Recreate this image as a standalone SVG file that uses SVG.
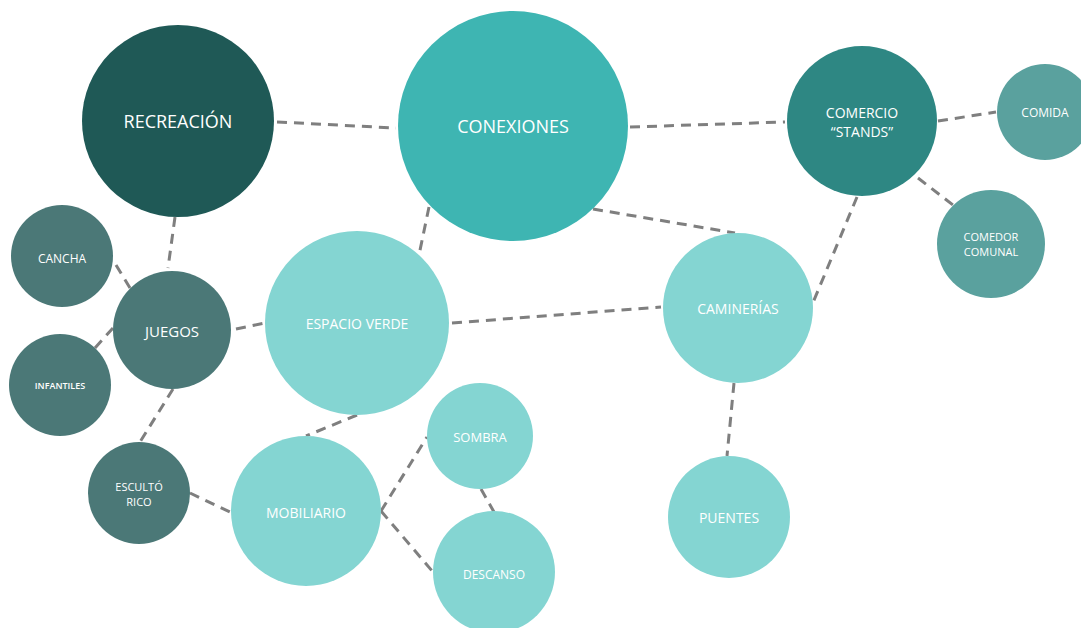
<svg xmlns="http://www.w3.org/2000/svg" width="1081" height="628" viewBox="0 0 1081 628">
<style>
.edge{stroke:#7f7f7f;stroke-width:3;stroke-dasharray:10 7;fill:none}
.t{font-family:"Open Sans","Noto Sans","Liberation Sans",sans-serif;fill:#ffffff;text-anchor:middle}
.c1{fill:#1f5956}.c2{fill:#3eb5b2}.c3{fill:#2e8783}.c4{fill:#5aa19e}.c5{fill:#4b7877}.c6{fill:#84d5d2}
</style>
<rect width="1081" height="628" fill="#ffffff"/>
<g id="connectors">
<line class="edge" x1="277" y1="122" x2="396" y2="128"/>
<line class="edge" x1="630" y1="127" x2="785" y2="122"/>
<line class="edge" x1="938" y1="121" x2="996" y2="112"/>
<line class="edge" x1="918" y1="178" x2="953" y2="205"/>
<line class="edge" x1="857" y1="197" x2="812" y2="305"/>
<line class="edge" x1="593" y1="209" x2="735" y2="233"/>
<line class="edge" x1="429" y1="207" x2="419" y2="255"/>
<line class="edge" x1="175" y1="217" x2="168" y2="268"/>
<line class="edge" x1="116" y1="265" x2="130" y2="288"/>
<line class="edge" x1="95" y1="348" x2="113" y2="328"/>
<line class="edge" x1="173" y1="389" x2="140" y2="442"/>
<line class="edge" x1="236" y1="329" x2="265" y2="323"/>
<line class="edge" x1="452" y1="323" x2="661" y2="307"/>
<line class="edge" x1="357" y1="415" x2="306" y2="436"/>
<line class="edge" x1="190" y1="493" x2="230" y2="512"/>
<line class="edge" x1="381" y1="511" x2="427" y2="437"/>
<line class="edge" x1="381" y1="511" x2="433" y2="572"/>
<line class="edge" x1="481" y1="489" x2="494" y2="512"/>
<line class="edge" x1="734" y1="383" x2="727" y2="456"/>
</g>
<g id="recreacion"><circle class="c1" cx="178" cy="121" r="96"/><text class="t" x="178" y="128" font-size="18">RECREACIÓN</text></g>
<g id="conexiones"><circle class="c2" cx="513" cy="126" r="115"/><text class="t" x="513" y="133" font-size="18">CONEXIONES</text></g>
<g id="comercio"><circle class="c3" cx="862" cy="121" r="75"/><text class="t" x="862" y="118" font-size="14">COMERCIO</text><text class="t" x="862" y="137" font-size="14">“STANDS”</text></g>
<g id="comida"><circle class="c4" cx="1045" cy="112" r="48"/><text class="t" x="1045" y="117" font-size="12">COMIDA</text></g>
<g id="comedor"><circle class="c4" cx="991" cy="244" r="54"/><text class="t" x="991" y="241" font-size="11">COMEDOR</text><text class="t" x="991" y="256" font-size="11">COMUNAL</text></g>
<g id="cancha"><circle class="c5" cx="62" cy="256" r="51"/><text class="t" x="62" y="263" font-size="12">CANCHA</text></g>
<g id="juegos"><circle class="c5" cx="172" cy="330" r="59"/><text class="t" x="172" y="337" font-size="15">JUEGOS</text></g>
<g id="infantiles"><circle class="c5" cx="60" cy="385" r="51"/><text class="t" x="60" y="389" font-size="9" font-weight="600">INFANTILES</text></g>
<g id="escultorico"><circle class="c5" cx="139" cy="493" r="51"/><text class="t" x="139" y="491" font-size="11">ESCULTÓ</text><text class="t" x="139" y="506" font-size="11">RICO</text></g>
<g id="espacio-verde"><circle class="c6" cx="357" cy="323" r="92"/><text class="t" x="357" y="329" font-size="14">ESPACIO VERDE</text></g>
<g id="mobiliario"><circle class="c6" cx="306" cy="511" r="75"/><text class="t" x="306" y="518" font-size="14">MOBILIARIO</text></g>
<g id="sombra"><circle class="c6" cx="480" cy="436" r="53"/><text class="t" x="480" y="442" font-size="13">SOMBRA</text></g>
<g id="descanso"><circle class="c6" cx="494" cy="572" r="61"/><text class="t" x="494" y="579" font-size="12">DESCANSO</text></g>
<g id="caminerias"><circle class="c6" cx="738" cy="308" r="75"/><text class="t" x="738" y="314" font-size="14">CAMINERÍAS</text></g>
<g id="puentes"><circle class="c6" cx="729" cy="517" r="61"/><text class="t" x="729" y="523" font-size="14">PUENTES</text></g>
</svg>
